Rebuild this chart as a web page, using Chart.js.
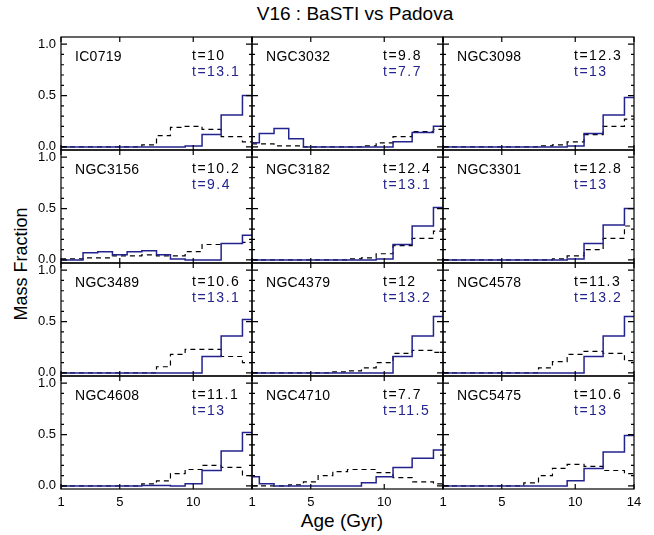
<!DOCTYPE html>
<html>
<head>
<meta charset="utf-8">
<title>V16 : BaSTI vs Padova</title>
<script src="https://cdn.jsdelivr.net/npm/chart.js@4.4.1/dist/chart.umd.min.js"></script>
<style>
  body { margin: 0; background: #fff; width: 654px; height: 535px; position: relative; overflow: hidden;
         font-family: "Liberation Sans", Arial, sans-serif; }
  canvas { position: absolute; }
  .lbl { position: absolute; color: #000; white-space: nowrap; }
</style>
</head>
<body>
<div class="lbl" style="left:0; width:710px; top:3px; text-align:center; font-size:19px;">V16 : BaSTI vs Padova</div>
<div class="lbl" style="left:21px; top:264px; font-size:18px; transform: translate(-50%, -50%) rotate(-90deg);">Mass Fraction</div>
<div class="lbl" style="left:342px; top:521px; font-size:19px; transform: translate(-50%, -50%);">Age (Gyr)</div>

<script>
// age bins (Gyr): 1..8 in 1 Gyr steps, then 8.9, 10, 11.2, 12.6, 14.1
const binEdges = [1, 1.5, 2.5, 3.5, 4.5, 5.5, 6.5, 7.5, 8.45, 9.45, 10.6, 11.9, 13.35, 14];

const galaxies = ['IC0719', 'NGC3032', 'NGC3098', 'NGC3156', 'NGC3182', 'NGC3301',
                  'NGC3489', 'NGC4379', 'NGC4578', 'NGC4608', 'NGC4710', 'NGC5475'];

// mean ages printed in each panel
const tBasti  = ['10', '9.8', '12.3', '10.2', '12.4', '12.8', '10.6', '12', '11.3', '11.1', '7.7', '10.6'];
const tPadova = ['13.1', '7.7', '13', '9.4', '13.1', '13', '13.1', '13.2', '13.2', '13', '11.5', '13'];

// mass fraction per age bin, BaSTI (black dashed)
const bastiFrac = [
  [0, 0, 0, 0, 0, 0, 0.02, 0.11, 0.19, 0.20, 0.17, 0.10, 0.05],
  [0.03, 0.03, 0.01, 0.01, 0, 0, 0, 0, 0.01, 0.04, 0.10, 0.15, 0.17],
  [0, 0, 0, 0, 0, 0, 0, 0.01, 0.02, 0.05, 0.12, 0.20, 0.27],
  [0.01, 0.01, 0.02, 0.02, 0.04, 0.04, 0.05, 0.04, 0.04, 0.08, 0.15, 0.16, 0.17],
  [0, 0, 0, 0, 0, 0, 0, 0.01, 0.02, 0.06, 0.14, 0.21, 0.28],
  [0, 0, 0, 0, 0, 0, 0, 0, 0.01, 0.04, 0.10, 0.21, 0.33],
  [0, 0, 0, 0, 0, 0, 0, 0.06, 0.18, 0.23, 0.23, 0.16, 0.10],
  [0, 0, 0, 0, 0, 0, 0.01, 0.02, 0.05, 0.10, 0.19, 0.22, 0.20],
  [0, 0, 0, 0, 0, 0, 0, 0.05, 0.11, 0.18, 0.21, 0.19, 0.12],
  [0, 0, 0, 0, 0, 0, 0.02, 0.05, 0.12, 0.16, 0.20, 0.18, 0.10],
  [0, 0, 0, 0.01, 0.04, 0.10, 0.14, 0.16, 0.16, 0.13, 0.08, 0.04, 0.02],
  [0, 0, 0, 0, 0, 0, 0.03, 0.10, 0.17, 0.21, 0.19, 0.15, 0.12]
];

// mass fraction per age bin, Padova (blue)
const padovaFrac = [
  [0, 0, 0, 0, 0, 0, 0, 0, 0, 0.01, 0.12, 0.31, 0.50],
  [0.04, 0.13, 0.18, 0.08, 0, 0, 0, 0, 0, 0, 0.05, 0.14, 0.20],
  [0, 0, 0, 0, 0, 0, 0, 0, 0, 0.01, 0.13, 0.31, 0.48],
  [0, 0, 0.07, 0.08, 0.05, 0.08, 0.09, 0.05, 0.01, 0, 0, 0.16, 0.24],
  [0, 0, 0, 0, 0, 0, 0, 0, 0, 0.01, 0.15, 0.33, 0.51],
  [0, 0, 0, 0, 0, 0, 0, 0, 0, 0.01, 0.16, 0.34, 0.50],
  [0, 0, 0, 0, 0, 0, 0, 0, 0, 0, 0.16, 0.36, 0.52],
  [0, 0, 0, 0, 0, 0, 0, 0, 0, 0, 0.16, 0.36, 0.55],
  [0, 0, 0, 0, 0, 0, 0, 0, 0, 0, 0.16, 0.36, 0.55],
  [0, 0, 0, 0, 0, 0, 0.005, 0.005, 0, 0.02, 0.15, 0.34, 0.52],
  [0.09, 0.02, 0, 0, 0, 0, 0, 0, 0.03, 0.09, 0.18, 0.27, 0.35],
  [0, 0, 0, 0, 0, 0, 0, 0, 0, 0.05, 0.17, 0.33, 0.49]
];

const xTicks = [1, 5, 10, 14];
const yTicks = [0, 0.5, 1];
const yMinor = [0.1, 0.2, 0.3, 0.4, 0.6, 0.7, 0.8, 0.9];

const PANEL_W = 191, PANEL_H = 113, GRID_LEFT = 61, GRID_TOP = 37;
const M_LEFT = 40, M_RIGHT = 16, M_TOP = 4, M_BOTTOM = 26;
const Y_MIN = -0.03, Y_MAX = 1.07;
const BLUE = '#23238e';
const FONT = '"Liberation Sans", Arial, sans-serif';

// histogram as step points: each bin value held from its left edge to the next
function steps(vals) {
  return binEdges.map((e, i) => ({ x: e, y: vals[Math.min(i, vals.length - 1)] }));
}

// box, inward ticks on all four sides, and the labels inside each panel
function panelDecor(i) {
  return {
    id: 'panelDecor',
    afterDatasetsDraw(chart) {
      const { ctx, chartArea: a, scales: { x, y } } = chart;
      ctx.save();
      ctx.strokeStyle = '#000';
      ctx.lineWidth = 1.2;
      ctx.beginPath();
      xTicks.forEach(v => {
        const px = x.getPixelForValue(v);
        ctx.moveTo(px, a.bottom); ctx.lineTo(px, a.bottom - 5);
        ctx.moveTo(px, a.top); ctx.lineTo(px, a.top + 5);
      });
      yTicks.forEach(v => {
        const py = y.getPixelForValue(v);
        ctx.moveTo(a.left, py); ctx.lineTo(a.left + 6, py);
        ctx.moveTo(a.right, py); ctx.lineTo(a.right - 6, py);
      });
      yMinor.forEach(v => {
        const py = y.getPixelForValue(v);
        ctx.moveTo(a.left, py); ctx.lineTo(a.left + 3, py);
        ctx.moveTo(a.right, py); ctx.lineTo(a.right - 3, py);
      });
      ctx.stroke();
      ctx.strokeRect(a.left, a.top, a.width, a.height);

      ctx.font = '14px ' + FONT;
      ctx.textBaseline = 'middle';
      ctx.fillStyle = '#000';
      ctx.letterSpacing = '0.3px';
      ctx.fillText(galaxies[i], a.left + 14, a.top + 20);
      ctx.letterSpacing = '1.5px';
      ctx.fillText('t=' + tBasti[i], a.left + 131, a.top + 19);
      ctx.fillStyle = BLUE;
      ctx.fillText('t=' + tPadova[i], a.left + 131, a.top + 35);
      ctx.restore();
    }
  };
}

// scale paddings would shift the plot box; keep every panel the same size
function noPad(s) {
  s.paddingTop = 0; s.paddingBottom = 0; s.paddingLeft = 0; s.paddingRight = 0;
}

galaxies.forEach((name, i) => {
  const row = Math.floor(i / 3), col = i % 3;
  const cv = document.createElement('canvas');
  const w = M_LEFT + PANEL_W + M_RIGHT, h = M_TOP + PANEL_H + M_BOTTOM;
  cv.width = w; cv.height = h;
  cv.style.width = w + 'px'; cv.style.height = h + 'px';
  cv.style.left = (GRID_LEFT + col * PANEL_W - M_LEFT) + 'px';
  cv.style.top = (GRID_TOP + row * PANEL_H - M_TOP) + 'px';
  document.body.appendChild(cv);

  new Chart(cv, {
    type: 'line',
    data: {
      datasets: [
        { label: 'Padova', data: steps(padovaFrac[i]), borderColor: BLUE, borderWidth: 1.5,
          stepped: true, pointRadius: 0, fill: false },
        { label: 'BaSTI', data: steps(bastiFrac[i]), borderColor: '#000', borderWidth: 1.2,
          borderDash: [5, 4], stepped: true, pointRadius: 0, fill: false }
      ]
    },
    options: {
      responsive: false,
      animation: false,
      events: [],
      layout: { autoPadding: false, padding: { top: M_TOP, right: M_RIGHT, left: 0, bottom: 0 } },
      plugins: { legend: { display: false }, tooltip: { enabled: false } },
      scales: {
        x: {
          type: 'linear', min: 1, max: 14,
          grid: { display: false, drawTicks: false },
          border: { display: false },
          afterBuildTicks: s => { s.ticks = xTicks.map(v => ({ value: v })); },
          afterFit: s => { s.height = M_BOTTOM; noPad(s); },
          ticks: {
            display: row === 3, maxRotation: 0, autoSkip: false, padding: 6, color: '#000',
            font: { family: FONT, size: 13 },
            // the next panel's "1" sits on the shared edge
            callback: v => (v === 14 && col < 2) ? '' : String(v)
          }
        },
        y: {
          min: Y_MIN, max: Y_MAX,
          grid: { display: false, drawTicks: false },
          border: { display: false },
          afterBuildTicks: s => { s.ticks = yTicks.map(v => ({ value: v })); },
          afterFit: s => { s.width = M_LEFT; noPad(s); },
          ticks: {
            display: col === 0, padding: 5, color: '#000',
            font: { family: FONT, size: 13 },
            callback: v => v.toFixed(1)
          }
        }
      }
    },
    plugins: [panelDecor(i)]
  });
});
</script>
</body>
</html>
